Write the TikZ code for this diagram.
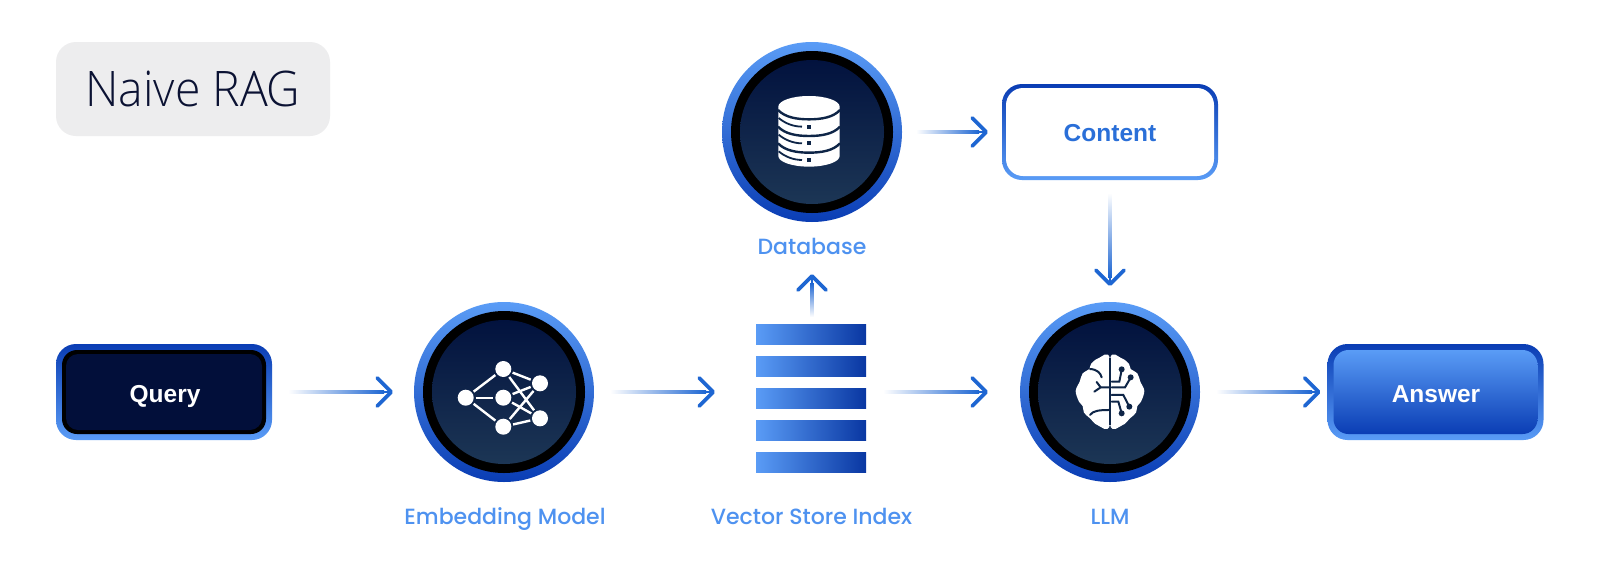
\documentclass[tikz,border=0pt]{standalone}
\usepackage{fontspec}
\usetikzlibrary{arrows.meta,calc,shadings}
\newfontfamily\fontlight{Open Sans Light}
\newfontfamily\fontmed{Poppins Medium}
\newfontfamily\fontbold{Liberation Sans}[BoldFont={Liberation Sans Bold}]
\definecolor{ringlight}{HTML}{5A9CF6}
\definecolor{ringdark}{HTML}{0A3DB4}
\definecolor{navytop}{HTML}{02123E}
\definecolor{navybot}{HTML}{1C3655}
\definecolor{navymid}{HTML}{0E2547}
\definecolor{querynavy}{HTML}{020F3A}
\definecolor{labelblue}{HTML}{4E92F0}
\definecolor{arrowblue}{HTML}{1E66D2}
\definecolor{contentblue}{HTML}{2A6FD8}
\definecolor{titleink}{HTML}{0B1233}
\definecolor{titlebg}{HTML}{EDEDEE}
\tikzset{
  x=1pt,y=-1pt,
  every node/.style={inner sep=0pt,outer sep=0pt},
  ringouter/.style={circle,minimum size=180pt,top color=ringlight,bottom color=ringdark},
  ringblack/.style={circle,minimum size=162pt,fill=black},
  ringinner/.style={circle,minimum size=144pt,top color=navytop,bottom color=navybot},
  boxouter/.style={rectangle,rounded corners=20pt,minimum width=216pt,minimum height=96pt,top color=ringdark,bottom color=ringlight},
  caption/.style={anchor=base,font=\fontmed\fontsize{22}{26}\selectfont,text=labelblue},
  boxtext/.style={anchor=base,font=\fontbold\bfseries\fontsize{24.5}{28}\selectfont},
  conn/.style={draw=arrowblue,line width=2.6pt,-{Straight Barb[length=14pt,width=28pt,line width=3.7pt,round]}},
  wash/.style={left color=white,right color=arrowblue},
  netdot/.style={circle,fill=white,minimum size=16pt},
  netline/.style={draw=white,line width=2.4pt,shorten >=2pt,shorten <=2pt},
  iconcut/.style={draw=navymid,line width=2pt,line cap=round},
  bar/.style={left color=ringlight,right color=ringdark!90!black},
}
\begin{document}
\begin{tikzpicture}
\useasboundingbox[fill=white] (0,0) rectangle (1600,576);

% title
\node[rectangle,rounded corners=20pt,fill=titlebg,minimum width=274pt,minimum height=94pt] (title) at (193,89) {};
\node[anchor=base,xscale=0.945,font=\fontlight\fontsize{49}{54}\selectfont,text=titleink] (titletext) at (193,106) {Naive RAG};

% query
\node[boxouter] (query) at (164,392) {};
\node[rectangle,rounded corners=15pt,fill=black,minimum width=204pt,minimum height=84pt] (queryrim) at (query.center) {};
\node[rectangle,rounded corners=12pt,fill=querynavy,minimum width=196pt,minimum height=76pt] (queryfill) at (query.center) {};
\node[boxtext,text=white] (querytext) at (165,402) {Query};

% answer
\node[boxouter] (answer) at (1435.5,392) {};
\node[rectangle,rounded corners=15pt,top color=ringlight,bottom color=ringdark,minimum width=204pt,minimum height=84pt] (answerfill) at (answer.center) {};
\node[boxtext,text=white] (answertext) at (1436,402) {Answer};

% content
\node[boxouter] (content) at (1110,132) {};
\node[rectangle,rounded corners=17pt,fill=white,minimum width=208pt,minimum height=88pt] (contentfill) at (content.center) {};
\node[boxtext,text=contentblue] (contenttext) at (1110,141) {Content};

% circles
\foreach \nm/\cx/\cy in {emb/504/392,db/812/132,llm/1110/392}{
  \node[ringouter] (\nm) at (\cx,\cy) {};
  \node[ringblack] (\nm black) at (\cx,\cy) {};
  \node[ringinner] (\nm inner) at (\cx,\cy) {};
}

% captions
\node[caption] (emblabel) at (505,524) {Embedding Model};
\node[caption] (stacklabel) at (811.5,524) {Vector Store Index};
\node[caption] (llmlabel) at (1110,524) {LLM};
\node[caption] (dblabel) at (812,254) {Database};

% vector store
\node[rectangle,minimum width=110pt,minimum height=148pt] (stack) at (811,398) {};
\foreach \top in {324,356,388,420,452}{
  \shade[bar] (756,\top) rectangle (866,\top+20);
}

% connectors
\draw[conn,shorten <=18pt,shorten >=21pt] (query) -- (emb);
\draw[conn,shorten <=19pt,shorten >=96pt] (emb) -- (emb-|stack.center);
\draw[conn,shorten <=74pt,shorten >=32pt] (emb-|stack.center) -- (llm);
\draw[conn,shorten <=19pt,shorten >=7pt] (llm) -- (answer);
\draw[conn,shorten <=16pt,shorten >=14pt] (db) -- (content);
\draw[conn,shorten <=16pt,shorten >=16pt] (content) -- (llm);
\draw[conn,shorten <=9pt,shorten >=20pt] (stack.north-|dblabel.south) -- (dblabel.south);
% gradient washes along the shafts
\shade[wash] (288,390.2) rectangle (384,393.8);
\shade[wash] (610,390.2) rectangle (706,393.8);
\shade[wash] (883,390.2) rectangle (979,393.8);
\shade[wash] (1216,390.2) rectangle (1312,393.8);
\shade[wash] (916,130.2) rectangle (979,133.8);
\shade[top color=white,bottom color=arrowblue] (1108.2,193) rectangle (1111.8,277);
\shade[bottom color=white,top color=arrowblue] (810.2,283) rectangle (813.8,317);

% network icon
\node[netdot] (n1) at (465.7,397.7) {};
\node[netdot] (n2) at (503.3,369) {};
\node[netdot] (n3) at (503.3,397.7) {};
\node[netdot] (n4) at (503.3,426.7) {};
\node[netdot] (n5) at (540,383.3) {};
\node[netdot] (n6) at (540,418.3) {};
\foreach \a/\b in {n1/n2,n1/n3,n1/n4,n2/n5,n2/n6,n3/n5,n3/n6,n4/n5,n4/n6}{
  \draw[netline] (\a) -- (\b);
}

% database icon
\begin{scope}[shift={(710,30)},x=0.3333pt,y=-0.3333pt]
  \fill[white] (205,230) arc[x radius=92,y radius=32,start angle=180,end angle=360]
     -- (389,378) arc[x radius=92,y radius=32,start angle=0,end angle=180] -- cycle;
  \foreach \d in {0,50,100}{
    \draw[draw=navymid,line width=2.4pt] (204,240+\d) .. controls (225,262+\d) and (260,268+\d) .. (297,268+\d)
       .. controls (335,268+\d) and (370,262+\d) .. (390,240+\d);
    \draw[draw=navymid,line width=1.8pt] (206,264+\d) .. controls (225,280+\d) and (250,290+\d) .. (276,290+\d);
    \fill[navymid] (290,284+\d) rectangle (302,296+\d);
  }
\end{scope}

% brain icon
\begin{scope}[shift={(1010,290)},x=0.3333pt,y=-0.3333pt]
  \fill[white] plot[smooth cycle,tension=0.55] coordinates {(300,207)(265,205)(243,222)(238,237)(218,250)(209,275)(197,303)(207,335)(218,348)(222,368)(240,385)(262,405)(300,403)};
  \fill[white] plot[smooth cycle,tension=0.55] coordinates {(300,207)(335,205)(357,222)(362,237)(382,250)(391,275)(403,303)(393,335)(382,348)(378,368)(360,385)(338,405)(300,403)};
  \fill[white] (285,210) rectangle (315,400);
  \draw[navymid,line width=2.4pt] (300,204) -- (300,406);
  % left folds
  \draw[iconcut] (240,237) .. controls (262,238) and (272,250) .. (275,262);
  \draw[iconcut] (296,292) -- (272,292) -- (253,305);
  \draw[iconcut] (272,292) -- (260,276);
  \draw[iconcut] (240,375) .. controls (248,362) and (270,360) .. (296,360);
  % right traces
  \draw[iconcut] (305,275) -- (328,275) -- (335,240);
  \draw[iconcut] (305,292) -- (345,292) -- (362,263);
  \draw[iconcut] (305,315) -- (340,315) -- (358,350);
  \draw[iconcut] (305,335) -- (325,335) -- (335,370);
  \foreach \p in {(335,238),(362,262),(358,350),(335,370)}{
    \fill[navymid] \p circle[radius=9];
  }
\end{scope}
\end{tikzpicture}
\end{document}
